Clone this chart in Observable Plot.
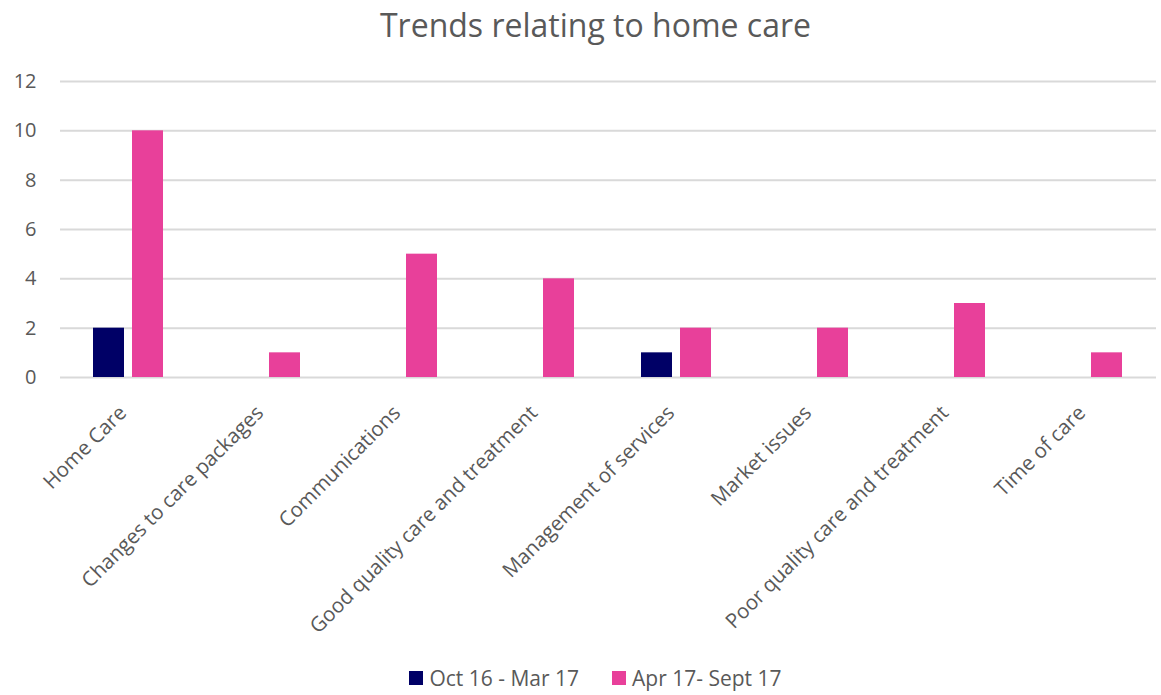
<!DOCTYPE html>
<html><head><meta charset="utf-8">
<script src="https://cdn.jsdelivr.net/npm/d3@7"></script>
<script src="https://cdn.jsdelivr.net/npm/@observablehq/plot@0.6"></script>
<style>
body{margin:0;background:#fff;font-family:"Open Sans",sans-serif;color:#595959;}
#title{height:60px;line-height:50px;text-align:center;font-size:32px;padding-left:30px;box-sizing:border-box;width:1161px;}
#legend{display:flex;justify-content:center;gap:33px;font-size:21px;padding-left:30px;width:1161px;box-sizing:border-box;height:35px;align-items:center;}
.sw{display:inline-block;width:14px;height:14px;margin-right:6px;vertical-align:middle;position:relative;top:-2px;}
</style></head>
<body>
<div id="title">Trends relating to home care</div>
<div id="chart"></div>
<div id="legend"></div>
<script>
const categories = ["Home Care","Changes to care packages","Communications","Good quality care and treatment","Management of services","Market issues","Poor quality care and treatment","Time of care"];
const series = ["Oct 16 - Mar 17","Apr 17- Sept 17"];
const octMar = [2,0,0,0,1,0,0,0];
const aprSep = [10,1,5,4,2,2,3,1];
const colors = ["#000066","#E8409A"];
const yTicks = [0,2,4,6,8,10,12];

const data = [];
categories.forEach((c,i)=>{
  data.push({cat:c, series:series[0], value:octMar[i]});
  data.push({cat:c, series:series[1], value:aprSep[i]});
});

const chart = Plot.plot({
  width:1161, height:600,
  marginLeft:57, marginRight:3, marginTop:21, marginBottom:283,
  style:{fontFamily:"Open Sans", fontSize:"20px", color:"#595959", background:"#fff"},
  fx:{domain:categories, padding:0, label:null},
  x:{domain:series, paddingInner:0.205, paddingOuter:0.85, axis:null},
  y:{domain:[0,12], label:null},
  color:{domain:series, range:colors},
  marks:[
    Plot.ruleY(yTicks, {stroke:"#d9d9d9", strokeWidth:2}),
    Plot.barY(data, {fx:"cat", x:"series", y:"value", fill:"series"}),
    Plot.axisY(yTicks, {tickSize:0, tickPadding:24, label:null, fontSize:20}),
    Plot.axisFx({anchor:"bottom", tickSize:0, tickPadding:28, tickRotate:-45, label:null, fontSize:20.5, dx:-6, dy:4})
  ]
});
document.getElementById("chart").appendChild(chart);

const lg = document.getElementById("legend");
series.forEach((s,i)=>{
  const item = document.createElement("span");
  item.innerHTML = `<span class="sw" style="background:${colors[i]}"></span>${s}`;
  lg.appendChild(item);
});
</script>
</body></html>
